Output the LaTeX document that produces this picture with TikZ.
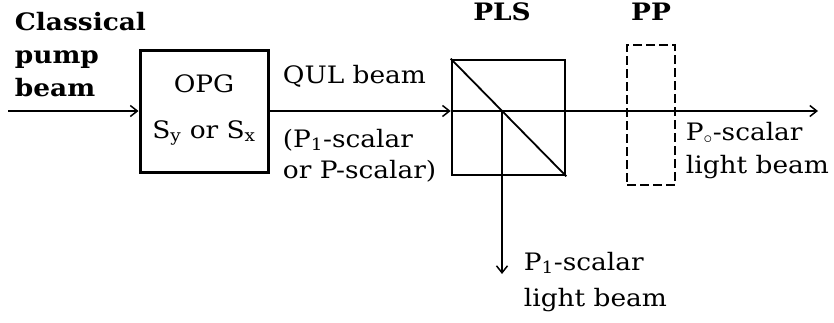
\documentclass[tikz,border=0pt]{standalone}
\usepackage{fontspec}
\setmainfont[FakeStretch=1.1]{DejaVu Serif}
\usetikzlibrary{arrows.meta}
\begin{document}
\begin{tikzpicture}[x=1pt,y=-1pt,line width=1.8pt,
  arr/.style={-{Straight Barb[length=7pt,width=11pt,line width=1.5pt]}},
  box/.style={draw,line width=3pt,inner sep=0pt},
  plsbox/.style={draw,line width=2.6pt,inner sep=0pt},
  ppbox/.style={draw,dashed,dash pattern=on 9pt off 4pt,line width=2.4pt,inner sep=0pt},
  lbl/.style={anchor=base west,inner sep=0pt,font=\fontsize{24}{28}\selectfont},
  blbl/.style={lbl,font=\fontsize{24}{28}\selectfont\bfseries},
  clbl/.style={anchor=base,inner sep=0pt,font=\fontsize{24}{28}\selectfont},
  cblbl/.style={clbl,font=\fontsize{24}{28}\selectfont\bfseries}]
\useasboundingbox (0,0) rectangle (834,322);
\node[box,minimum width=128pt,minimum height=122pt] (opg) at (204,111) {};
\node[plsbox,minimum width=113pt,minimum height=115pt] (pls) at (508.5,117.5) {};
\node[ppbox,minimum width=48pt,minimum height=140pt] (pp) at (651,115) {};
\coordinate (in) at (8,111);
\coordinate (endr) at (818,111);
\coordinate (split) at (502,111);
\coordinate (endd) at (502,274);
\draw[arr] (in) -- (opg.west);
\draw[arr] (opg.east) -- (opg.east -| pls.west);
\draw[arr] (opg.east -| pls.west) -- (endr);
\draw (pls.north west) -- (pls.south east);
\draw[arr] (split) -- (endd);
\node[blbl] (c1) at (14,30) {Classical};
\node[blbl] (c2) at (14,63) {pump};
\node[blbl] (c3) at (14,96) {beam};
\node[clbl] (o1) at (204,92) {OPG};
\node[clbl] (o2) at (204,138) {S\textsubscript{y} or S\textsubscript{x}};
\node[lbl] (q1) at (282,83) {QUL beam};
\node[lbl] (q2) at (282,147) {(P\textsubscript{1}-scalar};
\node[lbl] (q3) at (282,178) {or P-scalar)};
\node[cblbl] (t1) at (502,20) {PLS};
\node[cblbl] (t2) at (651,20) {PP};
\node[lbl] (r1) at (685,140) {P\textsubscript{$\circ$}-scalar};
\node[lbl] (r2) at (685,173) {light beam};
\node[lbl] (d1) at (523,270) {P\textsubscript{1}-scalar};
\node[lbl] (d2) at (523,306) {light beam};
\end{tikzpicture}
\end{document}
